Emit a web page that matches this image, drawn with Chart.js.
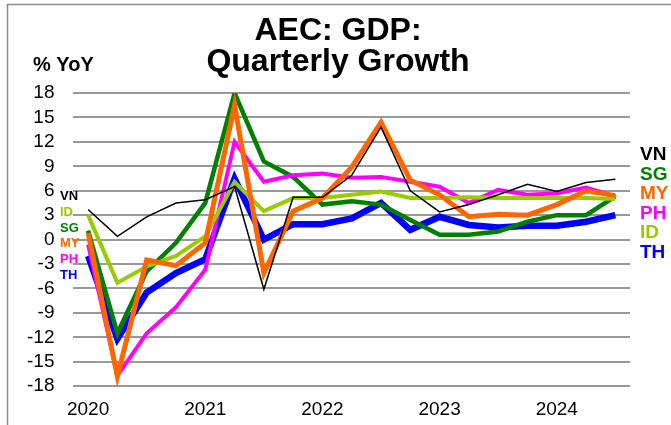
<!DOCTYPE html>
<html>
<head>
<meta charset="utf-8">
<script src="https://cdn.jsdelivr.net/npm/chart.js@4.4.1/dist/chart.umd.min.js"></script>
<style>
  html, body { margin: 0; padding: 0; background: #fff; }
  #wrap { width: 671px; height: 425px; position: relative; }
</style>
</head>
<body>
<div id="wrap"><canvas id="gdpChart"></canvas></div>
<script>
// quarterly, 2020Q1 .. 2024Q3
const quarters = ['2020', '', '', '', '2021', '', '', '', '2022', '', '', '', '2023', '', '', '', '2024', '', ''];

const vn = [3.7, 0.4, 2.8, 4.5, 4.9, 6.5, -6.1, 5.2, 5.2, 7.9, 13.8, 6.0, 3.4, 4.3, 5.5, 6.8, 5.9, 7.0, 7.4];
const sg = [1.1, -11.5, -3.9, -0.4, 4.5, 18.0, 9.6, 7.7, 4.3, 4.7, 4.3, 2.4, 0.6, 0.6, 1.0, 2.2, 3.0, 3.0, 5.3];
const my = [0.8, -16.8, -2.5, -3.2, -0.4, 16.5, -4.1, 3.5, 5.1, 8.9, 14.4, 7.3, 5.5, 2.8, 3.1, 3.0, 4.3, 6.0, 5.4];
const ph = [-0.6, -16.7, -11.5, -8.3, -3.7, 12.0, 7.1, 7.9, 8.1, 7.6, 7.7, 7.1, 6.5, 4.5, 6.1, 5.5, 5.7, 6.4, 5.3];
const id = [3.0, -5.3, -3.3, -2.0, 0.4, 7.1, 3.5, 5.1, 5.1, 5.5, 5.9, 5.1, 5.1, 5.2, 5.1, 5.1, 5.1, 5.1, 5.0];
const th = [-2.0, -12.2, -6.5, -4.1, -2.4, 7.5, 0.0, 1.9, 1.9, 2.6, 4.5, 1.2, 2.8, 1.8, 1.5, 1.7, 1.7, 2.2, 3.0];

const yTicks = [18, 15, 12, 9, 6, 3, 0, -3, -6, -9, -12, -15, -18];

// label order down the left and right edges
const leftLabels = [['VN', '#000000'], ['ID', '#99CC00'], ['SG', '#008000'], ['MY', '#FF6600'], ['PH', '#FF00FF'], ['TH', '#0000FF']];
const rightLabels = [['VN', '#000000'], ['SG', '#008000'], ['MY', '#FF6600'], ['PH', '#FF00FF'], ['ID', '#99CC00'], ['TH', '#0000FF']];

const FONT = "'Liberation Sans', Arial, sans-serif";

const decor = {
  id: 'decor',
  beforeDraw(chart) {
    const ctx = chart.ctx;
    ctx.save();
    ctx.strokeStyle = '#8c8c8c';
    ctx.lineWidth = 1.5;
    ctx.beginPath();
    ctx.moveTo(7.5, 425);
    ctx.lineTo(7.5, 4.5);
    ctx.lineTo(671, 4.5);
    ctx.stroke();
    ctx.restore();
  },
  afterDraw(chart) {
    const ctx = chart.ctx;
    const area = chart.chartArea;
    ctx.save();
    ctx.fillStyle = '#000';
    ctx.font = 'bold 32px ' + FONT;
    ctx.textAlign = 'center';
    ctx.textBaseline = 'alphabetic';
    ctx.fillText('AEC: GDP:', 338, 40);
    ctx.fillText('Quarterly Growth', 338, 71);

    ctx.font = 'bold 20px ' + FONT;
    ctx.textAlign = 'left';
    ctx.fillText('% YoY', 33, 71);

    ctx.font = 'bold 13px ' + FONT;
    leftLabels.forEach((l, i) => {
      ctx.fillStyle = l[1];
      ctx.fillText(l[0], 60, 200 + i * 15.8);
    });

    ctx.font = 'bold 19px ' + FONT;
    rightLabels.forEach((l, i) => {
      ctx.fillStyle = l[1];
      ctx.fillText(l[0], area.right + 10, 160 + i * 19.6);
    });
    ctx.restore();
  }
};

const mk = (label, data, color, width) => ({
  label, data,
  borderColor: color,
  backgroundColor: color,
  borderWidth: width,
  pointRadius: 0,
  tension: 0,
  fill: false
});

new Chart(document.getElementById('gdpChart'), {
  type: 'line',
  data: {
    labels: quarters,
    datasets: [
      mk('VN', vn, '#000000', 1.5),
      mk('MY', my, '#FF6600', 5),
      mk('ID', id, '#99CC00', 4),
      mk('PH', ph, '#FF00FF', 4),
      mk('SG', sg, '#008000', 4.5),
      mk('TH', th, '#0000FF', 6.5)
    ]
  },
  options: {
    responsive: true,
    maintainAspectRatio: false,
    animation: false,
    layout: { padding: { top: 93, left: 8, right: 41, bottom: 0 } },
    plugins: {
      legend: { display: false },
      title: { display: false },
      tooltip: { enabled: false }
    },
    scales: {
      x: {
        offset: true,
        grid: { display: false },
        border: { display: false },
        ticks: {
          autoSkip: false,
          maxRotation: 0,
          color: '#000',
          padding: 4,
          font: { family: FONT, size: 19 }
        }
      },
      y: {
        min: -18, max: 18,
        afterBuildTicks(axis) { axis.ticks = yTicks.map(v => ({ value: v })); },
        grid: { color: '#999999', lineWidth: 2, drawTicks: false },
        border: { display: false },
        ticks: {
          autoSkip: false,
          color: '#000',
          padding: 19,
          font: { family: FONT, size: 19 }
        }
      }
    }
  },
  plugins: [decor]
});
</script>
</body>
</html>
